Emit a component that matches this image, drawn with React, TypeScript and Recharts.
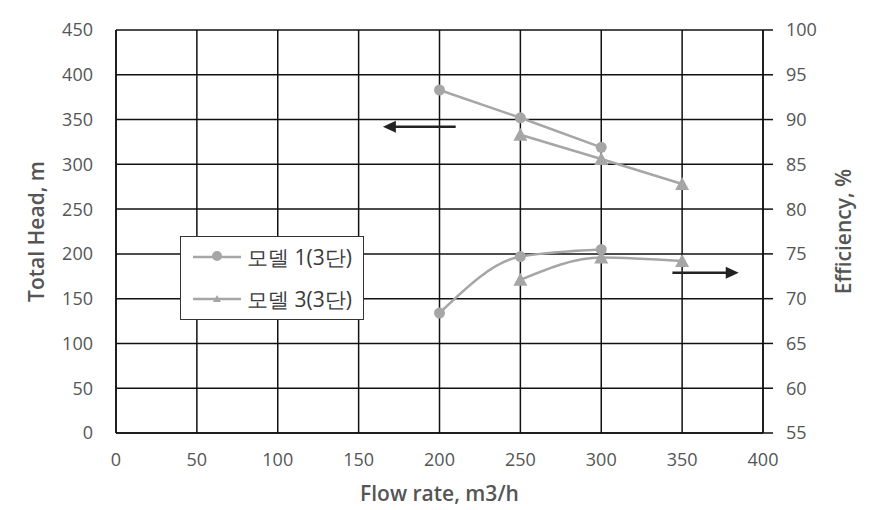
import { LineChart, Line, XAxis, YAxis, CartesianGrid, ReferenceLine } from "recharts";

const flowRates = [200, 250, 300, 350];
const model1Head = [383, 352, 319, null];
const model3Head = [null, 333, 306, 278];
const model1Eff = [68.4, 74.7, 75.5, null];
const model3Eff = [null, 72.1, 74.6, 74.2];

const xTicks = [0, 50, 100, 150, 200, 250, 300, 350, 400];
const headTicks = [0, 50, 100, 150, 200, 250, 300, 350, 400, 450];
const effTicks = [55, 60, 65, 70, 75, 80, 85, 90, 95, 100];

const seriesNames = ["모델 1(3단)", "모델 3(3단)"];

const data = flowRates.map((flow, i) => ({
  flow,
  m1Head: model1Head[i],
  m3Head: model3Head[i],
  m1Eff: model1Eff[i],
  m3Eff: model3Eff[i],
}));

const GREY = "#a6a6a6";
const TEXT = "#555555";
const FONT = "'Open Sans', sans-serif";

const tickStyle = { fill: TEXT, fontSize: 18, fontFamily: FONT };

const Triangle = (props: any) => {
  const { cx, cy } = props;
  if (cx == null || cy == null) return null;
  return (
    <polygon
      points={`${cx},${cy - 7} ${cx - 7},${cy + 6} ${cx + 7},${cy + 6}`}
      fill={GREY}
    />
  );
};

const Arrow = (dir: "left" | "right") => (props: any) => {
  const { x1, y1, x2, y2 } = props;
  const tipX = dir === "left" ? Math.min(x1, x2) : Math.max(x1, x2);
  const tailX = dir === "left" ? Math.max(x1, x2) : Math.min(x1, x2);
  const s = dir === "left" ? 1 : -1;
  return (
    <g>
      <line x1={tailX} y1={y1} x2={tipX + s * 8} y2={y2} stroke="#222" strokeWidth={2.5} />
      <polygon
        points={`${tipX},${y1} ${tipX + s * 13},${y1 - 6} ${tipX + s * 13},${y1 + 6}`}
        fill="#222"
      />
    </g>
  );
};

const vTitle = (text: string, dx: number) => (props: any) => {
  const { x, y, height } = props.viewBox;
  const cx = x + dx;
  const cy = y + height / 2;
  return (
    <text
      x={cx}
      y={cy}
      transform={`rotate(-90, ${cx}, ${cy})`}
      textAnchor="middle"
      dominantBaseline="central"
      fill={TEXT}
      fontSize={21}
      fontWeight={600}
      fontFamily={FONT}
    >
      {text}
    </text>
  );
};

const xTitle = (props: any) => {
  const { x, y, width } = props.viewBox;
  return (
    <text
      x={x + width / 2}
      y={y + 60}
      textAnchor="middle"
      dominantBaseline="central"
      fill={TEXT}
      fontSize={21}
      fontWeight={600}
      fontFamily={FONT}
    >
      Flow rate, m3/h
    </text>
  );
};

function LegendBox() {
  return (
    <div
      style={{
        position: "absolute",
        left: 180,
        top: 236,
        width: 182,
        height: 82,
        border: "1.5px solid #333",
        background: "#fff",
        fontFamily: FONT,
        fontSize: 21,
        color: "#3a3a3a",
      }}
    >
      {seriesNames.map((name, i) => (
        <div
          key={name}
          style={{ position: "absolute", left: 10, top: i === 0 ? 7 : 49, display: "flex", alignItems: "center", height: 26, whiteSpace: "nowrap" }}
        >
          <svg width={52} height={14}>
            <line x1={2} y1={7} x2={50} y2={7} stroke={GREY} strokeWidth={2.5} />
            {i === 0 ? (
              <circle cx={26} cy={6} r={5} fill={GREY} />
            ) : (
              <polygon points="26,3 22,10 30,10" fill={GREY} />
            )}
          </svg>
          <span style={{ marginLeft: 4 }}>{name}</span>
        </div>
      ))}
    </div>
  );
}

export default function App() {
  return (
    <div style={{ position: "absolute", left: 0, top: 0, width: 871, height: 510, background: "#fff" }}>
      <LineChart width={871} height={510} data={data} margin={{ top: 30, right: 0, bottom: 0, left: 0 }}>
        <CartesianGrid yAxisId="head" stroke="#111" strokeWidth={1.5} />
        <XAxis
          type="number"
          dataKey="flow"
          domain={[0, 400]}
          ticks={xTicks}
          height={77}
          tickSize={0}
          tickMargin={20}
          axisLine={{ stroke: "#111", strokeWidth: 1.5 }}
          tick={tickStyle}
          label={{ content: xTitle }}
        />
        <YAxis
          yAxisId="head"
          domain={[0, 450]}
          ticks={headTicks}
          width={116}
          tickSize={0}
          tickMargin={23}
          axisLine={{ stroke: "#111", strokeWidth: 1.5 }}
          tick={tickStyle}
          label={{ content: vTitle("Total Head, m", 36) }}
        />
        <YAxis
          yAxisId="eff"
          orientation="right"
          domain={[55, 100]}
          ticks={effTicks}
          width={108}
          tickSize={10}
          tickMargin={13}
          tickLine={{ stroke: "#111", strokeWidth: 1.5 }}
          axisLine={{ stroke: "#111", strokeWidth: 1.5 }}
          tick={tickStyle}
          label={{ content: vTitle("Efficiency, %", 80) }}
        />
        <ReferenceLine
          yAxisId="head"
          segment={[{ x: 210, y: 342 }, { x: 165, y: 342 }]}
          shape={Arrow("left")}
        />
        <ReferenceLine
          yAxisId="eff"
          segment={[{ x: 344, y: 72.9 }, { x: 385, y: 72.9 }]}
          shape={Arrow("right")}
        />
        <Line
          yAxisId="head"
          dataKey="m1Head"
          type="linear"
          stroke={GREY}
          strokeWidth={2.5}
          dot={{ r: 5.5, fill: GREY, stroke: GREY, strokeWidth: 0 }}
          isAnimationActive={false}
        />
        <Line
          yAxisId="head"
          dataKey="m3Head"
          type="linear"
          stroke={GREY}
          strokeWidth={2.5}
          dot={<Triangle />}
          isAnimationActive={false}
        />
        <Line
          yAxisId="eff"
          dataKey="m1Eff"
          type="monotone"
          stroke={GREY}
          strokeWidth={2.5}
          dot={{ r: 5.5, fill: GREY, stroke: GREY, strokeWidth: 0 }}
          isAnimationActive={false}
        />
        <Line
          yAxisId="eff"
          dataKey="m3Eff"
          type="monotone"
          stroke={GREY}
          strokeWidth={2.5}
          dot={<Triangle />}
          isAnimationActive={false}
        />
      </LineChart>
      <LegendBox />
    </div>
  );
}
